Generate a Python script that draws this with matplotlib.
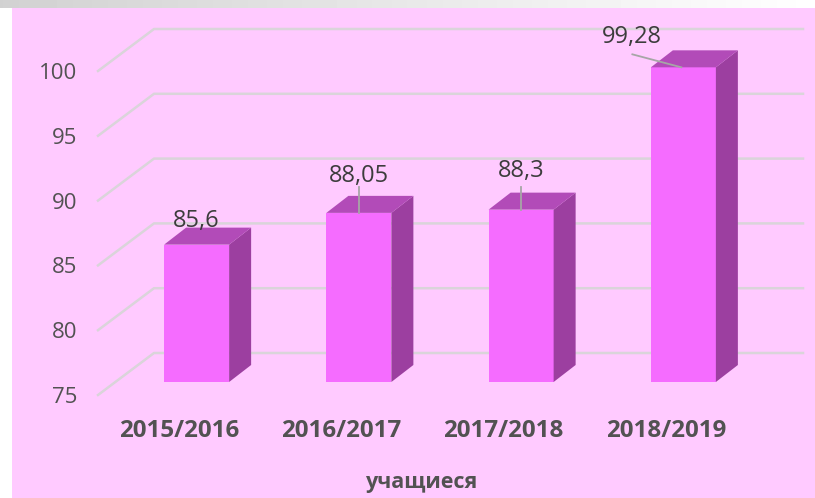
import numpy as np
import matplotlib
matplotlib.use("Agg")
import matplotlib.pyplot as plt
from matplotlib.patches import Polygon, Rectangle

plt.rcParams['font.family'] = ['Open Sans', 'DejaVu Sans']

years = ["2015/2016", "2016/2017", "2017/2018", "2018/2019"]
pupils = [85.6, 88.05, 88.3, 99.28]
value_labels = ["85,6", "88,05", "88,3", "99,28"]
y_ticks = [75, 80, 85, 90, 95, 100]
axis_title = "учащиеся"

W, H = 815, 498
PX_X = 1 / 162.25   # one pixel in category units
PX_Y = 1 / 12.96   # one pixel in value units

PINK = "#FFCAFF"
FRONT = "#F56CFF"
SIDE = "#9C3FA0"
TOP = "#B24BB8"
GRID = "#DAD4DA"
TEXT = "#525252"
LABEL = "#3C3C3C"
LEADER = "#A6A6A6"

# label centre and leader line, as pixel offsets from the front face top centre
label_offsets = [(0, 24), (0, 37), (0, 39), (-51, 30)]
leader_ends = [None, (0, 26), (0, 23), (-51, 13)]
leader_starts = [None, (0, 0), (0, 0), (-2, 0)]

fig = plt.figure(figsize=(W / 100, H / 100), dpi=100, facecolor="white")
fig.patches.append(Rectangle((12 / W, 0), 1 - 12 / W, 1 - 8 / H, transform=fig.transFigure, facecolor=PINK, edgecolor="none", zorder=-2))

# grey strip along the top edge, fading out to the right
strip = fig.add_axes([0, 1 - 8 / H, 1, 8 / H])
strip.imshow(np.linspace(0.82, 1.0, 256).reshape(1, -1), cmap="gray", vmin=0, vmax=1, aspect="auto")
strip.axis("off")

ax = fig.add_axes([98 / W, (H - 395) / H, 649 / W, 324 / H])
ax.patch.set_visible(False)
ax.set_xlim(-0.5, 3.5)
ax.set_ylim(75, 100)
for spine in ax.spines.values():
    spine.set_visible(False)

# floor depth of the 3d box
wall_dx = 56 * PX_X
wall_dy = 42 * PX_Y
for v in y_ticks:
    ax.plot([-0.5, -0.5 + wall_dx, 3.5 + wall_dx], [v, v + wall_dy, v + wall_dy], color=GRID, lw=1.8, clip_on=False, zorder=1)

# bars sit in the middle of the depth
bar_x = np.arange(len(pupils)) + 17.5 * PX_X
bar_w = 65 * PX_X
bar_base = 75 + 13 * PX_Y
bar_dx = 22 * PX_X
bar_dy = 17 * PX_Y
tops = np.array(pupils) + 13 * PX_Y

ax.bar(bar_x, np.array(pupils) - 75, width=bar_w, bottom=bar_base, color=FRONT, zorder=3, clip_on=False)
for x, top in zip(bar_x, tops):
    left = x - bar_w / 2
    right = x + bar_w / 2
    ax.add_patch(Polygon([(right, bar_base), (right + bar_dx, bar_base + bar_dy), (right + bar_dx, top + bar_dy), (right, top)],
                         facecolor=SIDE, edgecolor="none", zorder=3, clip_on=False))
    ax.add_patch(Polygon([(left, top), (left + bar_dx, top + bar_dy), (right + bar_dx, top + bar_dy), (right, top)],
                         facecolor=TOP, edgecolor="none", zorder=3, clip_on=False))

for i, text in enumerate(value_labels):
    ax.annotate(text, xy=(bar_x[i], tops[i]), xytext=(label_offsets[i][0] * 0.72, label_offsets[i][1] * 0.72),
                textcoords="offset points", ha="center", va="center", fontsize=17, color=LABEL, zorder=5,
                annotation_clip=False)
    if leader_ends[i] is not None:
        xs = [bar_x[i] + leader_starts[i][0] * PX_X, bar_x[i] + leader_ends[i][0] * PX_X]
        ys = [tops[i], tops[i] + leader_ends[i][1] * PX_Y]
        ax.plot(xs, ys, color=LEADER, lw=1.3, clip_on=False, zorder=4)

ax.set_yticks(y_ticks)
ax.set_xticks(range(len(years)))
ax.set_xticklabels(years, fontsize=17.4, fontweight="bold", color=TEXT)
ax.tick_params(axis="x", length=0, pad=17)
ax.tick_params(axis="y", length=0, pad=15, labelsize=16, labelcolor=TEXT)
ax.set_xlabel(axis_title, fontsize=15.5, fontweight="bold", color=TEXT, labelpad=21)

fig.savefig("out.png", dpi=100)
